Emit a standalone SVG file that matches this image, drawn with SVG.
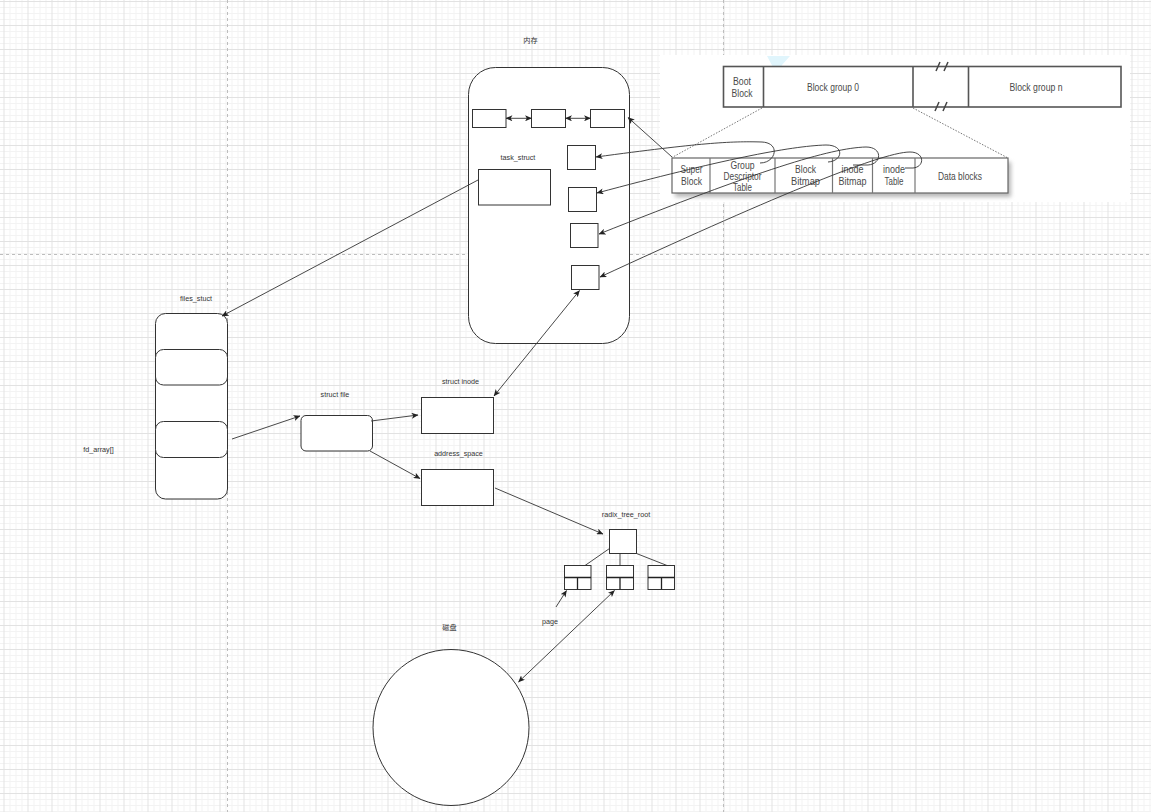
<svg xmlns="http://www.w3.org/2000/svg" width="1151" height="812" viewBox="0 0 1151 812">
<defs>
<pattern id="grid" x="3.5" y="1" width="24" height="24" patternUnits="userSpaceOnUse">
<path d="M6.5,0V24M12.5,0V24M18.5,0V24M0,6.5H24M0,12.5H24M0,18.5H24" stroke="#f3f3f3" stroke-width="1" fill="none"/>
<path d="M0.5,0V24M0,0.5H24" stroke="#e2e2e2" stroke-width="1" fill="none"/>
</pattern>
<marker id="arr" viewBox="0 0 8 7" markerWidth="7" markerHeight="6" refX="7.5" refY="3.5" orient="auto-start-reverse" markerUnits="userSpaceOnUse">
<path d="M0,0 L8,3.5 L0,7 L2,3.5 z" fill="#222"/>
</marker>
<filter id="shadow" x="-10%" y="-30%" width="120%" height="160%">
<feGaussianBlur stdDeviation="2"/>
</filter>
<style>
.node{fill:#fff;stroke:#333;stroke-width:1}
.lbl{font-family:"Liberation Sans",Arial,sans-serif;font-size:7.2px;fill:#333;text-anchor:middle}
.cjk{font-family:"Liberation Sans","Noto Sans CJK SC",sans-serif;font-size:7.2px;fill:#333;text-anchor:middle}
.conn{fill:none;stroke:#333;stroke-width:0.9}
.img{font-family:"Liberation Sans",Arial,sans-serif;font-size:11px;fill:#4a4a4a;text-anchor:middle}
.ib{fill:#fff;stroke:#555;stroke-width:1.6}
.page{stroke:#bdbdbd;stroke-width:1;stroke-dasharray:3 3;fill:none}
</style>
</defs>
<rect width="1151" height="812" fill="#fff"/>
<rect width="1151" height="812" fill="url(#grid)"/>
<g id="page-breaks">
<path class="page" d="M227.5,0V812M723.5,0V812M0,254.5H1151"/>
</g>

<g id="ext2-image">
<rect x="660" y="55" width="470" height="147" fill="#fff"/>
<polygon points="767,56 790,56 782,65 780,71 775,71" fill="#e0f5fc"/>
<rect class="ib" x="723.5" y="66.5" width="397.5" height="40.5"/>
<path d="M763.5,66.5V107M913,66.5V107M968.5,66.5V107" stroke="#555" stroke-width="1.6"/>
<path d="M936,71L940,62M944,71L948,62M935,111L939,102M943,111L947,102" stroke="#444" stroke-width="1.5"/>
<text class="img" x="742" y="84.5" textLength="18" lengthAdjust="spacingAndGlyphs">Boot</text>
<text class="img" x="742" y="96.5" textLength="21" lengthAdjust="spacingAndGlyphs">Block</text>
<text class="img" x="833" y="91" textLength="52" lengthAdjust="spacingAndGlyphs">Block group 0</text>
<text class="img" x="1036" y="91" textLength="53" lengthAdjust="spacingAndGlyphs">Block group n</text>
<path d="M762,108L672,157.5M913,108L1007,157.5" stroke="#666" stroke-width="0.9" stroke-dasharray="1.5 1.5"/>
<rect x="675" y="162" width="336" height="35" fill="#888" opacity="0.6" filter="url(#shadow)"/>
<rect x="672" y="158" width="336" height="35" fill="#fff" stroke="#666" stroke-width="1.2"/>
<path d="M710,158V193M775,158V193M832.5,158V193M872.5,158V193M915,158V193" stroke="#777" stroke-width="1.2"/>
<text class="img" x="691.5" y="173" textLength="22" lengthAdjust="spacingAndGlyphs">Super</text>
<text class="img" x="691.5" y="185" textLength="21" lengthAdjust="spacingAndGlyphs">Block</text>
<text class="img" x="742.5" y="168.5" textLength="24" lengthAdjust="spacingAndGlyphs">Group</text>
<text class="img" x="742.5" y="180" textLength="38" lengthAdjust="spacingAndGlyphs">Descriptor</text>
<text class="img" x="742.5" y="191" textLength="19" lengthAdjust="spacingAndGlyphs">Table</text>
<text class="img" x="805.5" y="172.5" textLength="21" lengthAdjust="spacingAndGlyphs">Block</text>
<text class="img" x="805.5" y="184.5" textLength="29" lengthAdjust="spacingAndGlyphs">Bitmap</text>
<text class="img" x="852.5" y="172.5" textLength="22" lengthAdjust="spacingAndGlyphs">inode</text>
<text class="img" x="852.5" y="184.5" textLength="28" lengthAdjust="spacingAndGlyphs">Bitmap</text>
<text class="img" x="894" y="172.5" textLength="22" lengthAdjust="spacingAndGlyphs">inode</text>
<text class="img" x="894" y="184.5" textLength="19" lengthAdjust="spacingAndGlyphs">Table</text>
<text class="img" x="960" y="180" textLength="44" lengthAdjust="spacingAndGlyphs">Data blocks</text>
</g>

<g id="memory">
<text class="cjk" x="530.5" y="42.5">内存</text>
<rect class="node" x="468.5" y="67.5" width="161" height="276" rx="27" ry="27"/>
</g>
<g id="list-node-1"><rect class="node" x="472.5" y="109.5" width="33.5" height="18"/></g>
<g id="list-node-2"><rect class="node" x="531.5" y="109.5" width="34" height="18"/></g>
<g id="list-node-3"><rect class="node" x="590.5" y="109.5" width="34" height="18"/></g>
<g id="task_struct">
<text class="lbl" x="518" y="159.5">task_struct</text>
<rect class="node" x="478.5" y="169.5" width="72" height="35.5"/>
</g>
<g id="mem-box-1"><rect class="node" x="567.5" y="145.5" width="28" height="24"/></g>
<g id="mem-box-2"><rect class="node" x="568.5" y="187.5" width="28" height="24"/></g>
<g id="mem-box-3"><rect class="node" x="570.5" y="223.5" width="27.5" height="24"/></g>
<g id="mem-box-4"><rect class="node" x="571.5" y="265.5" width="27.5" height="24"/></g>

<g id="files_stuct">
<text class="lbl" x="196" y="300.5">files_stuct</text>
<rect class="node" x="155.5" y="313.5" width="72" height="185.5" rx="10" ry="10"/>
<rect class="node" x="155.5" y="349.5" width="72" height="35.5" rx="8" ry="8"/>
<rect class="node" x="155.5" y="421.5" width="72" height="36" rx="8" ry="8"/>
</g>
<g id="fd_array"><text class="lbl" x="98.5" y="451.5">fd_array[]</text></g>

<g id="struct-file">
<text class="lbl" x="335" y="396.5">struct file</text>
<rect class="node" x="301" y="415.5" width="71.5" height="35.5" rx="5" ry="5"/>
</g>
<g id="struct-inode">
<text class="lbl" x="460.5" y="384">struct inode</text>
<rect class="node" x="421.5" y="397.5" width="72" height="36"/>
</g>
<g id="address_space">
<text class="lbl" x="458.5" y="456">address_space</text>
<rect class="node" x="421.5" y="469.5" width="72" height="36"/>
</g>

<g id="radix_tree_root">
<text class="lbl" x="626" y="516.5">radix_tree_root</text>
<rect class="node" x="609.5" y="529.5" width="27" height="24"/>
</g>
<g id="radix-child-1">
<rect class="node" x="564.5" y="565.5" width="26.5" height="24"/>
<path d="M564.5,577.5H591M577.5,577.5V589.5" stroke="#222" stroke-width="1.3"/>
</g>
<g id="radix-child-2">
<rect class="node" x="606.5" y="565.5" width="27" height="24"/>
<path d="M606.5,577.5H633.5M620,577.5V589.5" stroke="#222" stroke-width="1.3"/>
</g>
<g id="radix-child-3">
<rect class="node" x="648" y="565.5" width="26.5" height="24"/>
<path d="M648,577.5H674.5M661.5,577.5V589.5" stroke="#222" stroke-width="1.3"/>
</g>
<g id="page-label"><text class="lbl" x="550" y="624">page</text></g>

<g id="disk">
<text class="cjk" x="449.5" y="630">磁盘</text>
<circle class="node" cx="451" cy="727.5" r="78"/>
</g>

<g id="connectors">
<path class="conn" d="M506,118.3H531.5" marker-start="url(#arr)" marker-end="url(#arr)"/>
<path class="conn" d="M565.5,118.3H590.5" marker-start="url(#arr)" marker-end="url(#arr)"/>
<path class="conn" d="M672,157L628,117.5" marker-end="url(#arr)"/>
<path class="conn" d="M760,163C776,163 781,143 762,142C730,141 700,143 596,157" marker-end="url(#arr)"/>
<path class="conn" d="M828,162C843,161 845,145 826,145C790,146 720,160 597,193" marker-end="url(#arr)"/>
<path class="conn" d="M853,165L868,165C882,164 883,147 866,147C830,148 760,170 599,234" marker-end="url(#arr)"/>
<path class="conn" d="M905,168L913,168C925,167 925,152 910,152C880,152 760,203 600,277" marker-end="url(#arr)"/>
<path class="conn" d="M478,180L222,316" marker-end="url(#arr)"/>
<path class="conn" d="M494,396L579.5,290.5" marker-start="url(#arr)" marker-end="url(#arr)"/>
<path class="conn" d="M232,439L300,416" marker-end="url(#arr)"/>
<path class="conn" d="M371,421L418,415" marker-end="url(#arr)"/>
<path class="conn" d="M370,451L420,478.5" marker-end="url(#arr)"/>
<path class="conn" d="M495,488L603,534" marker-end="url(#arr)"/>
<path class="conn" d="M609.5,548.5L585,565.5M620,553.5V565.5M636.5,553.5L667,565.5" stroke="#555"/>
<path class="conn" d="M556,607L566.5,590.5" marker-end="url(#arr)"/>
<path class="conn" d="M518.5,682L614.5,590.5" marker-start="url(#arr)" marker-end="url(#arr)"/>
</g>
</svg>
